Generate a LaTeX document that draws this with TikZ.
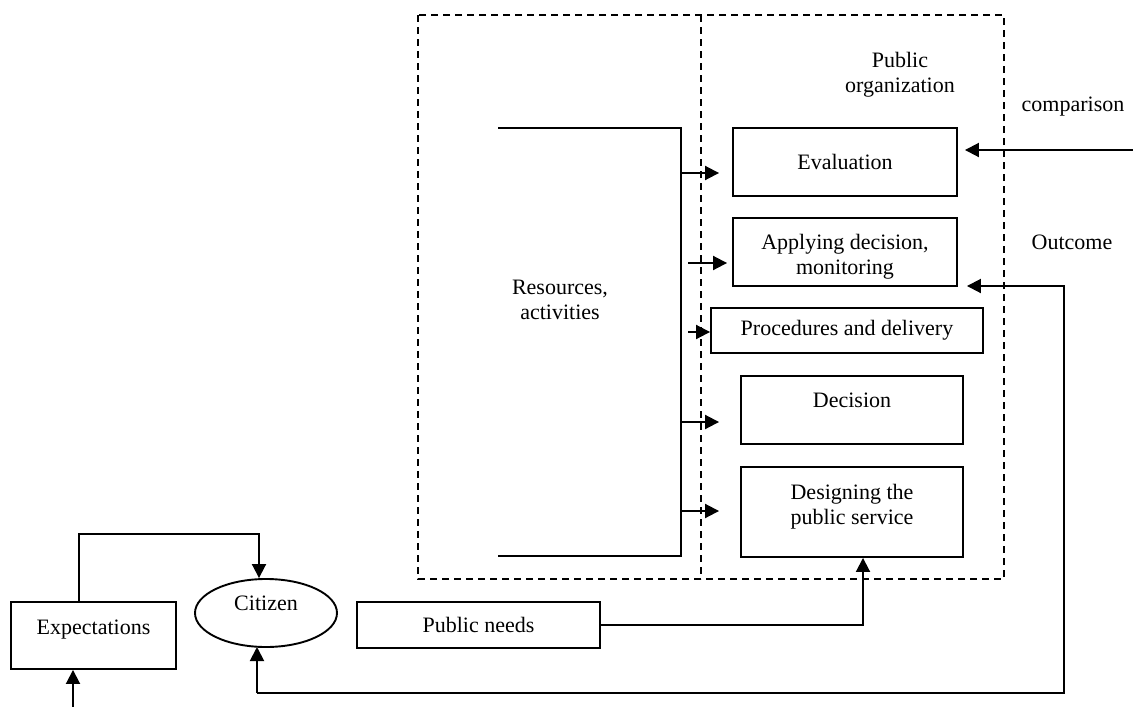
\documentclass[tikz,border=0pt]{standalone}
\usepackage{fontspec}
\setmainfont{Liberation Serif}
\usetikzlibrary{arrows.meta,shapes.geometric}
\begin{document}
\begin{tikzpicture}[x=1pt,y=-1pt,
  every node/.style={font=\fontsize{22}{25}\selectfont, align=center, inner sep=0pt},
  line/.style={line width=1.9pt},
  boxed/.style={draw, line width=1.9pt, rectangle},
  frame/.style={line width=1.7pt, dash pattern=on 7pt off 5pt},
  arr/.style={line width=1.9pt, -{Triangle[length=14pt,width=14pt]}},
  lbl/.style={draw=none}]
\useasboundingbox (0,0) rectangle (1133,707);

% organization frame and its dividing line
\draw[frame] (418,15) rectangle (1004,579);
\draw[frame] (701,15) -- (701,579);

% process boxes
\node[boxed, minimum width=224pt, minimum height=68pt] (eval) at (845,162) {Evaluation};
\node[boxed, minimum width=224pt, minimum height=68pt,
  label={[yshift=-5pt]center:{Applying decision,\\monitoring}}] (apply) at (845,252) {};
\node[boxed, minimum width=272pt, minimum height=45pt] (proc) at (847,330.5) {Procedures and delivery};
\node[boxed, minimum width=222pt, minimum height=68pt,
  label={[yshift=10pt]center:Decision}] (dec) at (852,410) {};
\node[boxed, minimum width=222pt, minimum height=90pt,
  label={[yshift=5pt]center:{Designing the\\public service}}] (design) at (852,512) {};

% citizen side
\node[boxed, minimum width=165pt, minimum height=67pt] (expect) at (93.5,635.5) {Expectations\\[-8pt]~};
\node[draw, line width=1.9pt, ellipse, minimum width=142pt, minimum height=68pt] (citizen) at (266,613) {Citizen\\[-6pt]~};
\node[boxed, minimum width=243pt, minimum height=46pt] (needs) at (478.5,625) {Public needs};

% labels
\node[lbl] (org) at (900,75) {Public\\organization};
\node[lbl] (res) at (560,300) {Resources,\\activities};
\node[lbl] (cmp) at (1073,107) {comparison};
\node[lbl] (out) at (1072,242) {Outcome};

% resources bracket
\coordinate (bt) at (498,128);
\coordinate (bb) at (498,556);
\coordinate (bv) at (681,128);
\draw[line] (bt) -- (bv) -- (681,556) -- (bb);

% feeds into the process boxes
\coordinate (f1) at (681,173);
\coordinate (f2) at (688,263);
\coordinate (f3) at (688,332);
\coordinate (f4) at (681,422);
\coordinate (f5) at (681,511);
\draw[arr, shorten >=13pt] (f1) -- (f1 -| eval.west);
\draw[arr, shorten >=5pt] (f2) -- (f2 -| apply.west);
\draw[arr] (f3) -- (f3 -| proc.west);
\draw[arr, shorten >=21pt] (f4) -- (f4 -| dec.west);
\draw[arr, shorten >=21pt] (f5) -- (f5 -| design.west);

% comparison input
\coordinate (cin) at (1133,150);
\draw[arr, shorten >=7pt] (cin) -- (cin -| eval.east);

% public needs into service design
\coordinate (nk) at (863,625);
\draw[arr] (needs.east) -- (nk) -- (nk |- design.south);

% expectations to citizen
\coordinate (e1) at (79,534);
\coordinate (e2) at (259,534);
\draw[arr] (expect.north -| e1) -- (e1) -- (e2) -- (citizen.north -| e2);

% input into expectations
\coordinate (ein) at (73,707);
\draw[arr] (ein) -- (ein |- expect.south);

% outcome loop back to citizen and monitoring
\coordinate (o1) at (1064,286);
\coordinate (o2) at (1064,693);
\coordinate (o3) at (257,693);
\coordinate (cb) at (257,647);
\draw[arr, shorten >=9pt] (cb |- o3) -- (o2) -- (o1) -- (o1 -| apply.east);
\draw[arr] (o3) -- (cb);
\end{tikzpicture}
\end{document}
